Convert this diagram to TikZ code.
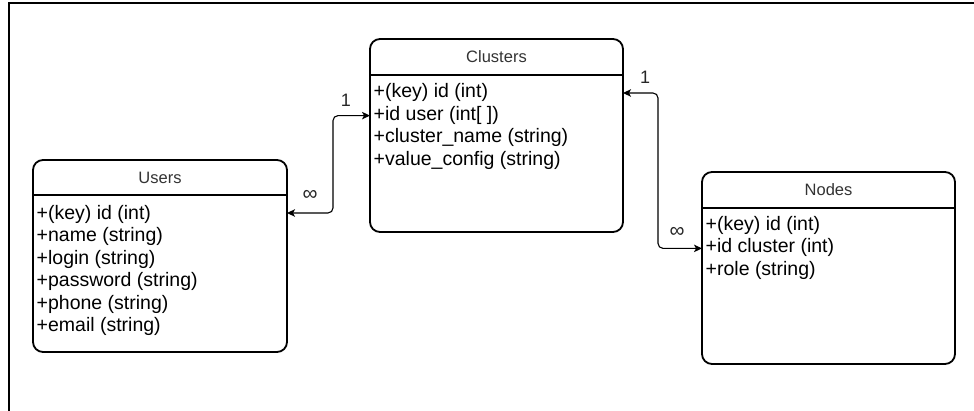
\documentclass[tikz,border=0pt]{standalone}
\usepackage{fontspec}
\setmainfont{Liberation Sans}
\usetikzlibrary{arrows.meta,calc}
\tikzset{
  x=1pt, y=-1pt,
  entity/.style={draw=black, line width=1.8pt, rounded corners=10pt, fill=white,
    inner sep=0pt, outer sep=0pt},
  headline/.style={draw=black, line width=1.8pt},
  title/.style={font=\fontsize{16.5}{18}\selectfont, text=black!80, inner sep=0pt},
  row/.style={anchor=west, font=\fontsize{19.5}{22}\selectfont, text=black,
    inner sep=0pt, text height=0.75em, text depth=0.25em},
  conn/.style={draw=black, line width=1.1pt, rounded corners=5pt,
    {Stealth[length=8pt,width=7.5pt,inset=2pt]}-{Stealth[length=8pt,width=7.5pt,inset=2pt]}},
  mult/.style={font=\fontsize{18}{20}\selectfont, text=black!85, inner sep=0pt},
  many/.style={font=\fontsize{21}{22}\selectfont, text=black!85, inner sep=0pt},
}
\begin{document}
\begin{tikzpicture}
\useasboundingbox (0,0) rectangle (974,411);
% page frame
\draw[line width=1.6pt] (9,411) -- (9,3) -- (974,3);

% Users
\node[entity, minimum width=254pt, minimum height=192pt] (users) at (160,256) {};
\draw[headline] ([yshift=-35pt]users.north west) -- ([yshift=-35pt]users.north east);
\node[title] (utitle) at ([yshift=-17.5pt]users.north) {Users};
\node[row] (u1) at ([xshift=3.5pt,yshift=-57pt]users.north west) {+(key) id (int)};
\node[row] (u2) at ([yshift=-22.4pt]u1.west) {+name (string)};
\node[row] (u3) at ([yshift=-22.4pt]u2.west) {+login (string)};
\node[row] (u4) at ([yshift=-22.4pt]u3.west) {+password (string)};
\node[row] (u5) at ([yshift=-22.4pt]u4.west) {+phone (string)};
\node[row] (u6) at ([yshift=-22.4pt]u5.west) {+email (string)};

% Clusters
\node[entity, minimum width=253pt, minimum height=193pt] (clusters) at (496.5,135.5) {};
\draw[headline] ([yshift=-36pt]clusters.north west) -- ([yshift=-36pt]clusters.north east);
\node[title] (ctitle) at ([yshift=-18pt]clusters.north) {Clusters};
\node[row] (c1) at ([xshift=3.5pt,yshift=-56pt]clusters.north west) {+(key) id (int)};
\node[row] (c2) at ([yshift=-22.6pt]c1.west) {+id user (int[ ])};
\node[row] (c3) at ([yshift=-22.6pt]c2.west) {+cluster\_name (string)};
\node[row] (c4) at ([yshift=-22.6pt]c3.west) {+value\_config (string)};

% Nodes
\node[entity, minimum width=253pt, minimum height=192pt] (nodes) at (828.5,268) {};
\draw[headline] ([yshift=-36pt]nodes.north west) -- ([yshift=-36pt]nodes.north east);
\node[title] (ntitle) at ([yshift=-18pt]nodes.north) {Nodes};
\node[row] (n1) at ([xshift=3.5pt,yshift=-56pt]nodes.north west) {+(key) id (int)};
\node[row] (n2) at ([yshift=-22.4pt]n1.west) {+id cluster (int)};
\node[row] (n3) at ([yshift=-22.4pt]n2.west) {+role (string)};

% relations
\coordinate (ua) at ([yshift=4pt]users.east |- u1);
\coordinate (ca) at ([yshift=2pt]clusters.west |- c2);
\coordinate (cb) at ([yshift=2pt]clusters.east |- c1);
\coordinate (na) at ([yshift=2pt]nodes.west |- n2);
\draw[conn] (ua) -- ++(46,0) |- (ca);
\draw[conn] (cb) -- ++(35,0) |- (na);

% multiplicities
\node[mult] (m1) at (346,100) {1};
\node[many] (m2) at (310,195) {∞};
\node[mult] (m3) at (645,77) {1};
\node[many] (m4) at (677,232) {∞};
\end{tikzpicture}
\end{document}
